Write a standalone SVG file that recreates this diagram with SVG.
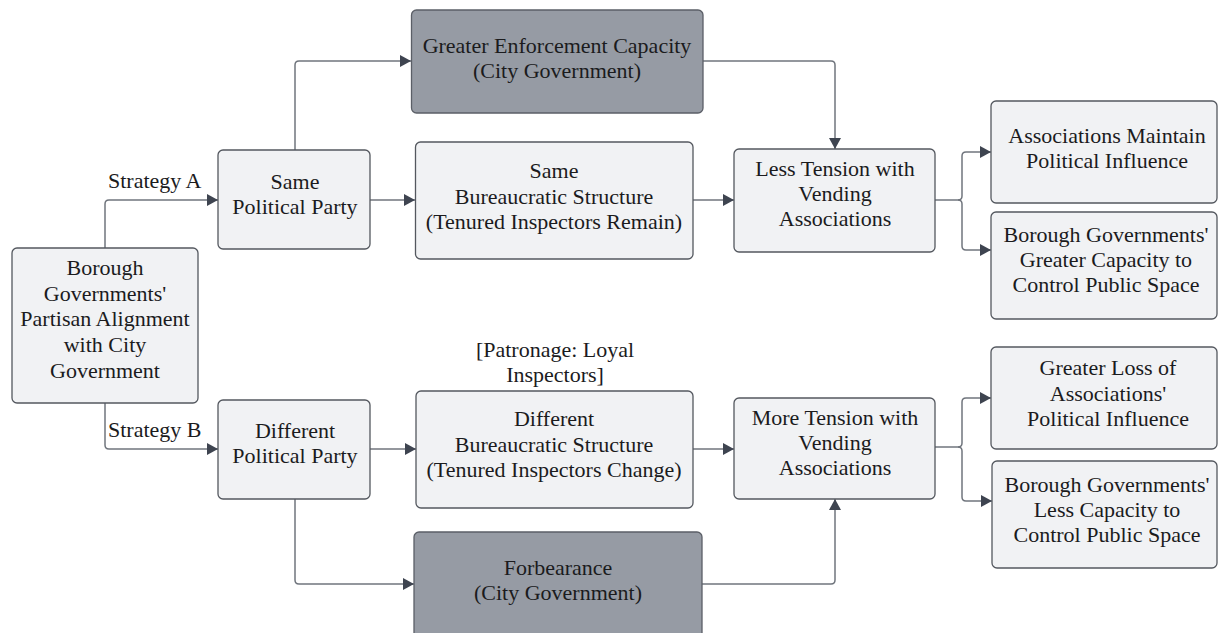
<svg xmlns="http://www.w3.org/2000/svg" width="1218" height="633" viewBox="0 0 1218 633">
  <style>
    .box { fill: #f1f2f4; stroke: #54585f; stroke-width: 1.3; }
    .dark { fill: #969ba4; stroke: #5b5f67; stroke-width: 1.3; }
    text { font-family: 'Liberation Serif', 'Times New Roman', serif; font-size: 22px; fill: #1b1b1d; }
    .t { text-anchor: middle; }
    .edge { fill: none; stroke: #70757d; stroke-width: 1.5; stroke-linejoin: round; }
  </style>
  <defs>
    <marker id="arrow" viewBox="0 0 11 12" refX="11" refY="6" markerWidth="11" markerHeight="12" markerUnits="userSpaceOnUse" orient="auto">
      <path d="M0,0 L11,6 L0,12 z" fill="#3e4450"/>
    </marker>
  </defs>

  <!-- connectors and their labels -->
  <g id="connectors">
    <path class="edge" d="M105,248 V204 Q105,200 109,200 H218" marker-end="url(#arrow)"/>
    <path class="edge" d="M105,403 V445 Q105,449 109,449 H218" marker-end="url(#arrow)"/>
    <path class="edge" d="M295,150 V65 Q295,61 299,61 H411" marker-end="url(#arrow)"/>
    <path class="edge" d="M370,200 H415" marker-end="url(#arrow)"/>
    <path class="edge" d="M693,200 H734" marker-end="url(#arrow)"/>
    <path class="edge" d="M703,61 H831 Q835,61 835,65 V149" marker-end="url(#arrow)"/>
    <path class="edge" d="M935,200 H958 Q962,200 962,196 V156 Q962,152 966,152 H991" marker-end="url(#arrow)"/>
    <path class="edge" d="M958,200 Q962,200 962,204 V246 Q962,250 966,250 H991" marker-end="url(#arrow)"/>
    <path class="edge" d="M370,449 H416" marker-end="url(#arrow)"/>
    <path class="edge" d="M693,449 H734" marker-end="url(#arrow)"/>
    <path class="edge" d="M295,499 V580 Q295,584 299,584 H414" marker-end="url(#arrow)"/>
    <path class="edge" d="M702,584 H831 Q835,584 835,580 V499" marker-end="url(#arrow)"/>
    <path class="edge" d="M935,447 H958 Q962,447 962,443 V402 Q962,398 966,398 H991" marker-end="url(#arrow)"/>
    <path class="edge" d="M958,447 Q962,447 962,451 V497 Q962,501 966,501 H992" marker-end="url(#arrow)"/>
    <text x="108" y="188">Strategy A</text>
    <text x="108" y="437">Strategy B</text>
    <text class="t" x="555" y="357">[Patronage: Loyal</text>
    <text class="t" x="555" y="382">Inspectors]</text>
  </g>

  <g id="partisan-alignment">
    <rect class="box" x="12" y="248" width="186" height="155" rx="5"/>
    <text class="t" x="105" y="275">Borough</text>
    <text class="t" x="105" y="300.5">Governments'</text>
    <text class="t" x="105" y="326">Partisan Alignment</text>
    <text class="t" x="105" y="352">with City</text>
    <text class="t" x="105" y="378">Government</text>
  </g>

  <g id="same-party">
    <rect class="box" x="218" y="150" width="152" height="99" rx="5"/>
    <text class="t" x="295" y="189">Same</text>
    <text class="t" x="295" y="214">Political Party</text>
  </g>

  <g id="different-party">
    <rect class="box" x="218" y="400" width="152" height="99" rx="5"/>
    <text class="t" x="295" y="438">Different</text>
    <text class="t" x="295" y="463">Political Party</text>
  </g>

  <g id="enforcement">
    <rect class="dark" x="411.5" y="10" width="291.5" height="103" rx="5"/>
    <text class="t" x="557" y="53">Greater Enforcement Capacity</text>
    <text class="t" x="557" y="77.5">(City Government)</text>
  </g>

  <g id="same-structure">
    <rect class="box" x="415.5" y="142" width="277.5" height="117" rx="5"/>
    <text class="t" x="554" y="178">Same</text>
    <text class="t" x="554" y="203.5">Bureaucratic Structure</text>
    <text class="t" x="554" y="229">(Tenured Inspectors Remain)</text>
  </g>

  <g id="different-structure">
    <rect class="box" x="416" y="391" width="277" height="117" rx="5"/>
    <text class="t" x="554" y="426">Different</text>
    <text class="t" x="554" y="451.5">Bureaucratic Structure</text>
    <text class="t" x="554" y="477">(Tenured Inspectors Change)</text>
  </g>

  <g id="forbearance">
    <rect class="dark" x="414" y="532" width="288" height="110" rx="5"/>
    <text class="t" x="558" y="575">Forbearance</text>
    <text class="t" x="558" y="600">(City Government)</text>
  </g>

  <g id="less-tension">
    <rect class="box" x="734" y="149" width="201" height="103" rx="5"/>
    <text class="t" x="835" y="176">Less Tension with</text>
    <text class="t" x="835" y="201">Vending</text>
    <text class="t" x="835" y="226">Associations</text>
  </g>

  <g id="more-tension">
    <rect class="box" x="734" y="398" width="201" height="101" rx="5"/>
    <text class="t" x="835" y="425">More Tension with</text>
    <text class="t" x="835" y="450">Vending</text>
    <text class="t" x="835" y="475">Associations</text>
  </g>

  <g id="maintain-influence">
    <rect class="box" x="991" y="101" width="226" height="102" rx="5"/>
    <text class="t" x="1107" y="143">Associations Maintain</text>
    <text class="t" x="1107" y="168">Political Influence</text>
  </g>

  <g id="greater-capacity">
    <rect class="box" x="991" y="212" width="226" height="107" rx="5"/>
    <text class="t" x="1106" y="242">Borough Governments'</text>
    <text class="t" x="1106" y="267">Greater Capacity to</text>
    <text class="t" x="1106" y="292">Control Public Space</text>
  </g>

  <g id="loss-influence">
    <rect class="box" x="991" y="347" width="226" height="102" rx="5"/>
    <text class="t" x="1108" y="375">Greater Loss of</text>
    <text class="t" x="1108" y="401">Associations'</text>
    <text class="t" x="1108" y="426">Political Influence</text>
  </g>

  <g id="less-capacity">
    <rect class="box" x="992" y="461" width="225" height="107" rx="5"/>
    <text class="t" x="1107" y="492">Borough Governments'</text>
    <text class="t" x="1107" y="517">Less Capacity to</text>
    <text class="t" x="1107" y="542">Control Public Space</text>
  </g>
</svg>
